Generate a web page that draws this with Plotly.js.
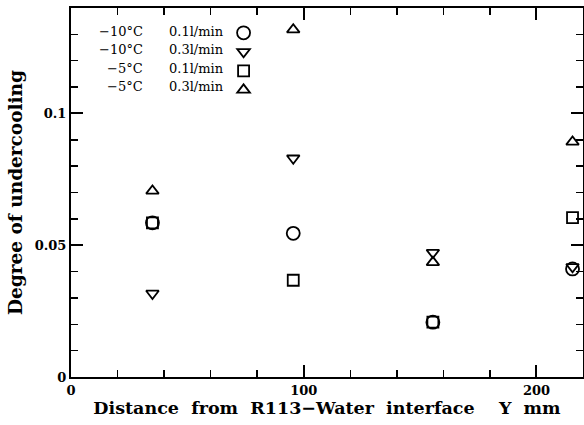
<!DOCTYPE html>
<html>
<head>
<meta charset="utf-8">
<script src="https://cdn.plot.ly/plotly-3.0.1.min.js"></script>
<style>
  html, body { margin: 0; padding: 0; background: #fff; }
  #chart { width: 584px; height: 425px; }
</style>
</head>
<body>
<div id="chart"></div>
<script>
// Distance from the R113-water interface (mm) for each measuring station
const distance = [35, 95.5, 155.5, 215.5];

// Degree of undercooling, one series per bath temperature / flow rate
const underM10Q01 = [0.0585, 0.0545, 0.0208, 0.0410];  // -10°C 0.1 l/min
const underM10Q03 = [0.0317, 0.0830, 0.0472, 0.0418];  // -10°C 0.3 l/min
const underM5Q01  = [0.0585, 0.0367, 0.0208, 0.0605];  // -5°C 0.1 l/min
const underM5Q03  = [0.0706, 0.1318, 0.0435, 0.0892];  // -5°C 0.3 l/min

const seriesTemp = ['\u221210\u00B0C', '\u221210\u00B0C', '\u22125\u00B0C', '\u22125\u00B0C'];
const seriesFlow = ['0.1l/min', '0.3l/min', '0.1l/min', '0.3l/min'];
const seriesSymbol = ['circle-open', 'triangle-down-open', 'square-open', 'triangle-up-open'];
const seriesSize = [13, 11, 11, 11];

const xTickVals = [0, 100, 200];
const xTickText = ['0', '100', '200'];
const yTickVals = [0, 0.05, 0.1];
const yTickText = ['0', '0.05', '0.1'];

const seriesValues = [underM10Q01, underM10Q03, underM5Q01, underM5Q03];

const traces = seriesValues.map((vals, i) => ({
  type: 'scatter',
  mode: 'markers',
  x: distance,
  y: vals,
  name: ' ',
  showlegend: true,
  marker: {
    symbol: seriesSymbol[i],
    size: seriesSize[i],
    color: '#000',
    line: { color: '#000', width: 1.8 }
  },
  hoverinfo: 'x+y'
}));

// Legend text sits to the left of the legend symbols, in two columns
const legendRowsY = [0.936, 0.887, 0.836, 0.787];
const textFont = { family: 'DejaVu Serif', size: 13, color: '#000' };
const annotations = [];
seriesTemp.forEach((t, i) => {
  annotations.push({
    xref: 'paper', yref: 'paper', x: 0.145, y: legendRowsY[i],
    xanchor: 'right', yanchor: 'middle', showarrow: false,
    text: t, font: textFont
  });
  annotations.push({
    xref: 'paper', yref: 'paper', x: 0.187, y: legendRowsY[i],
    xanchor: 'left', yanchor: 'middle', showarrow: false,
    text: seriesFlow[i], font: textFont
  });
});

const axisCommon = {
  showline: true, linecolor: '#000', linewidth: 2, mirror: 'allticks',
  ticks: 'inside', ticklen: 12, tickwidth: 2, tickcolor: '#000',
  showgrid: false, zeroline: false,
  tickfont: { family: 'DejaVu Serif', size: 13, color: '#000', weight: 'bold' }
};

const layout = {
  width: 584, height: 425,
  margin: { l: 71, r: 1, t: 8, b: 48 },
  paper_bgcolor: '#fff', plot_bgcolor: '#fff',
  showlegend: true,
  legend: {
    x: 0.298, y: 0.972, xanchor: 'left', yanchor: 'top',
    bgcolor: 'rgba(0,0,0,0)', borderwidth: 0,
    font: { family: 'DejaVu Serif', size: 12, color: '#000' },
    itemwidth: 30, tracegroupgap: 0
  },
  xaxis: Object.assign({}, axisCommon, {
    range: [0, 220],
    tickvals: xTickVals, ticktext: xTickText,
    minor: { dtick: 20, tick0: 0, ticks: 'inside', ticklen: 7, tickwidth: 1.5, tickcolor: '#000', showgrid: false },
    title: {
      text: 'Distance\u00A0 from\u00A0 R113\u2212Water\u00A0 interface\u00A0\u00A0\u00A0 Y\u00A0 mm',
      font: { family: 'DejaVu Serif', size: 17.5, color: '#000', weight: 'bold' },
      standoff: 3
    }
  }),
  yaxis: Object.assign({}, axisCommon, {
    range: [0, 0.14],
    tickvals: yTickVals, ticktext: yTickText,
    minor: { dtick: 0.01, tick0: 0, ticks: 'inside', ticklen: 7, tickwidth: 1.5, tickcolor: '#000', showgrid: false },
    title: {
      text: 'Degree of undercooling',
      font: { family: 'DejaVu Serif', size: 18.5, color: '#000', weight: 'bold' },
      standoff: 7
    }
  }),
  annotations: annotations
};

Plotly.newPlot('chart', traces, layout, { displayModeBar: false, staticPlot: true });
</script>
</body>
</html>
